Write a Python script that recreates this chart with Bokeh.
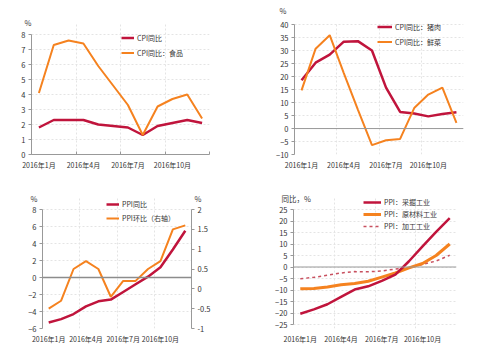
from bokeh.plotting import figure
from bokeh.models import Range1d, FixedTicker, Span, LinearAxis, CustomJSTickFormatter, Title
from bokeh.layouts import column, row
from bokeh.embed import file_html
from bokeh.resources import INLINE

months = list(range(1, 13))
tick_pos = [1, 4, 7, 10]
tick_labels = ["2016年1月", "2016年4月", "2016年7月", "2016年10月"]

cpi_yoy = [1.8, 2.3, 2.3, 2.3, 2.0, 1.9, 1.8, 1.3, 1.9, 2.1, 2.3, 2.1]
cpi_food = [4.1, 7.3, 7.6, 7.4, 5.9, 4.6, 3.3, 1.3, 3.2, 3.7, 4.0, 2.4]

cpi_pork = [18.6, 25.4, 28.5, 33.5, 33.7, 30.1, 15.8, 6.4, 5.8, 4.7, 5.6, 6.3]
cpi_veg = [14.7, 30.8, 36.0, 21.4, 7.3, -6.4, -4.5, -4.0, 7.9, 13.1, 15.8, 2.2]

ppi_yoy = [-5.3, -4.9, -4.3, -3.4, -2.8, -2.6, -1.7, -0.8, 0.1, 1.2, 3.3, 5.5]
ppi_mom = [-0.5, -0.3, 0.5, 0.7, 0.5, -0.2, 0.2, 0.2, 0.5, 0.7, 1.5, 1.6]

ppi_mining = [-20.3, -18.4, -16.2, -13.0, -9.8, -8.4, -6.0, -3.3, 2.5, 9.0, 15.3, 21.3]
ppi_raw = [-9.5, -9.3, -8.7, -7.7, -7.2, -6.2, -4.4, -2.6, -0.4, 1.5, 5.0, 10.0]
ppi_proc = [-5.1, -4.5, -3.6, -2.6, -2.0, -2.1, -1.7, -0.9, -0.4, 1.1, 2.6, 5.1]

RED = "#C0143C"
ORANGE = "#F5821F"
FONT = "Noto Sans CJK SC"
AXIS = "#999999"
TXT = "#333333"


def style_yaxis(ax, ticks, lo, hi):
    ax.ticker = FixedTicker(ticks=ticks)
    ax.bounds = (lo, hi)
    ax.axis_line_color = AXIS
    ax.major_tick_line_color = AXIS
    ax.major_tick_out = 3
    ax.major_tick_in = 0
    ax.minor_tick_line_color = None
    ax.minor_tick_out = 0
    ax.minor_tick_in = 0
    ax.major_label_text_font_size = "7.5px"
    ax.major_label_text_color = TXT
    ax.major_label_text_font = FONT
    ax.major_label_standoff = 3


def make_fig(w, left, right, top, bottom, yrange, ybounds, yticks, bottom_axis_line):
    p = figure(width=w, height=178, title=None, x_range=Range1d(0.5, 12.5),
               y_range=Range1d(*yrange), output_backend="svg", toolbar_location=None,
               min_border_left=left, min_border_right=right, min_border_top=top,
               min_border_bottom=bottom)
    p.outline_line_color = None
    p.background_fill_color = "white"
    p.border_fill_color = "white"
    style_yaxis(p.yaxis[0], yticks, *ybounds)
    xa = p.xaxis[0]
    xa.ticker = FixedTicker(ticks=tick_pos, minor_ticks=[0.5, 3.5, 6.5, 9.5, 12.5])
    xa.major_label_overrides = dict(zip(tick_pos, tick_labels))
    xa.major_tick_line_color = None
    xa.major_tick_out = 0
    xa.major_tick_in = 0
    xa.minor_tick_out = 0
    xa.major_label_text_font_size = "7px"
    xa.major_label_text_color = TXT
    xa.major_label_text_font = FONT
    xa.major_label_standoff = 5
    if bottom_axis_line:
        xa.axis_line_color = AXIS
        xa.minor_tick_line_color = AXIS
        xa.minor_tick_in = 3
    else:
        xa.axis_line_color = None
        xa.minor_tick_line_color = None
        xa.minor_tick_in = 0
    p.xgrid.ticker = FixedTicker(ticks=[3.5, 6.5, 9.5, 12.5])
    for g in (p.xgrid[0], p.ygrid[0]):
        g.grid_line_color = "#e4e4e4"
        g.grid_line_dash = "2 2"
        g.grid_line_width = 1
    return p


def style_legend(p, loc, gw, lh):
    lg = p.legend[0]
    lg.location = loc
    lg.background_fill_alpha = 0
    lg.border_line_color = None
    lg.padding = 0
    lg.margin = 0
    lg.spacing = 0
    lg.label_height = lh
    lg.glyph_height = lh
    lg.glyph_width = gw
    lg.label_standoff = 3
    lg.label_text_font_size = "7px"
    lg.label_text_font = FONT
    lg.label_text_color = TXT


def unit_title(p, text, align, offset, standoff, valign="bottom"):
    p.add_layout(Title(text=text, align=align, offset=offset, standoff=standoff,
                       vertical_align=valign, text_font_size="7.5px", text_font=FONT,
                       text_font_style="normal", text_color=TXT), "above")


# Panel 1 (top left)
p1 = make_fig(247, 31, 38, 22, 24, (0, 8.8), (0, 8), list(range(0, 9)), True)
p1.line(months, cpi_yoy, color=RED, line_width=2.5, legend_label="CPI同比")
p1.line(months, cpi_food, color=ORANGE, line_width=2, legend_label="CPI同比：食品")
style_legend(p1, (90, 94), 13, 15)
unit_title(p1, "%", "left", -7, -10)

# Panel 2 (top right)
p2 = make_fig(248, 47, 32, 22, 24, (-10, 40 + 2.3 / 2.6), (-10, 40),
              list(range(-10, 41, 5)), False)
p2.add_layout(Span(location=0, dimension="width", line_color=AXIS, line_width=1))
p2.line(months, cpi_pork, color=RED, line_width=2.5, legend_label="CPI同比：猪肉")
p2.line(months, cpi_veg, color=ORANGE, line_width=2, legend_label="CPI同比：鲜菜")
style_legend(p2, (83, 105), 15, 15)
unit_title(p2, "%", "left", -15, 9, "top")

# Panel 3 (bottom left)
ext3 = 12 / 8.5
p3 = make_fig(247, 42, 56, 19, 28, (-6, 8 + ext3), (-6, 8), list(range(-6, 9, 2)), False)
p3.extra_y_ranges = {"r": Range1d(-1, 2 + ext3 * 3 / 14)}
ra = LinearAxis(y_range_name="r", formatter=CustomJSTickFormatter(code="return String(tick);"))
style_yaxis(ra, [-1, -0.5, 0, 0.5, 1, 1.5, 2], -1, 2)
p3.add_layout(ra, "right")
p3.add_layout(Span(location=0, dimension="width", line_color="#8c8c8c", line_width=1.5))
p3.line(months, ppi_yoy, color=RED, line_width=2.5, legend_label="PPI同比")
p3.line(months, ppi_mom, color=ORANGE, line_width=2, y_range_name="r",
        legend_label="PPI环比（右轴）")
style_legend(p3, (64, 103), 13, 14)
unit_title(p3, "%", "left", -12, -13)
unit_title(p3, "%", "right", -10, -13)

# Panel 4 (bottom right)
p4 = make_fig(248, 46, 39, 19, 28, (-25 - 4 / 2.3, 25 + 12 / 2.3), (-25, 25),
              list(range(-25, 26, 5)), False)
p4.add_layout(Span(location=0, dimension="width", line_color=AXIS, line_width=1))
p4.line(months, ppi_proc, color="#C8505F", line_width=1.5, line_dash="3 3",
        legend_label="PPI：加工工业")
p4.line(months, ppi_raw, color=ORANGE, line_width=3, legend_label="PPI：原材料工业")
p4.line(months, ppi_mining, color=RED, line_width=2.5, legend_label="PPI：采掘工业")
lg4 = p4.legend[0]
lg4.items = list(reversed(lg4.items))
style_legend(p4, (70, 96), 18, 12)
unit_title(p4, "同比，%", "left", -12, -13)

page = column(row(p1, p2), row(p3, p4))
open("out.html", "w").write(file_html(page, INLINE))
